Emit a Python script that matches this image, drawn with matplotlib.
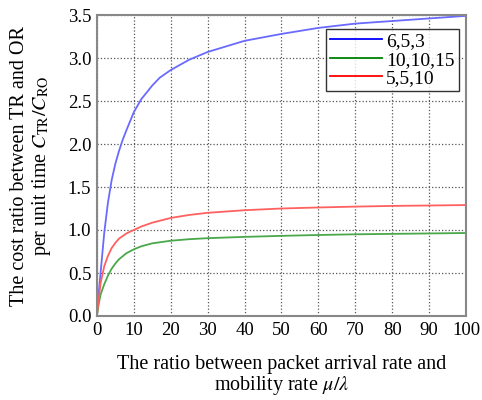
import matplotlib.pyplot as plt

plt.rcParams["font.family"] = "Liberation Serif"
plt.rcParams["mathtext.fontset"] = "stix"

# values
x_blue = [0, 0.5, 1, 2, 3, 4, 5, 6, 7, 8, 10, 12, 15, 17, 20, 25, 30, 40, 50, 60, 70, 80, 90, 100]
y_blue = [0, 0.27, 0.5, 0.97, 1.32, 1.58, 1.77, 1.92, 2.05, 2.16, 2.37, 2.52, 2.68, 2.77, 2.86, 2.98, 3.07,
          3.2, 3.28, 3.35, 3.4, 3.43, 3.46, 3.49]

x_green = [0, 0.5, 1, 2, 3, 4, 5, 6, 8, 10, 12, 15, 20, 25, 30, 40, 50, 60, 70, 80, 90, 100]
y_green = [0, 0.14, 0.25, 0.37, 0.47, 0.55, 0.61, 0.66, 0.73, 0.775, 0.81, 0.845, 0.875, 0.893, 0.905, 0.92,
           0.932, 0.942, 0.95, 0.955, 0.96, 0.965]

x_red = [0, 0.5, 1, 2, 3, 4, 5, 6, 8, 10, 12, 15, 20, 25, 30, 40, 50, 60, 70, 80, 90, 100]
y_red = [0, 0.2, 0.38, 0.58, 0.7, 0.79, 0.85, 0.9, 0.96, 1.0, 1.04, 1.085, 1.14, 1.175, 1.2, 1.23, 1.25,
         1.262, 1.272, 1.28, 1.285, 1.29]

labels = ["6,5,3", "10,10,15", "5,5,10"]

fig = plt.figure(figsize=(4.82, 4.0), dpi=100)
ax = fig.add_axes([0.201, 0.21, 0.766, 0.7525])

ax.plot(x_blue, y_blue, color="#6a6aff", lw=1.3, label=labels[0])
ax.plot(x_green, y_green, color="#4aa84a", lw=1.3, label=labels[1])
ax.plot(x_red, y_red, color="#ff6060", lw=1.3, label=labels[2])

ax.set_xlim(0, 100)
ax.set_ylim(0, 3.5)
ax.set_xticks(range(0, 101, 10))
ax.set_yticks([0, 0.5, 1.0, 1.5, 2.0, 2.5, 3.0, 3.5])
ax.set_yticklabels(["0.0", "0.5", "1.0", "1.5", "2.0", "2.5", "3.0", "3.5"])
ax.tick_params(labelsize=13.5, length=0, pad=4)
ax.grid(True, color="#555555", linestyle=":", lw=0.9)
for s in ax.spines.values():
    s.set_color("#888888")
    s.set_linewidth(1.5)

ax.set_xlabel("The ratio between packet arrival rate and\nmobility rate $\\mu/\\lambda$", fontsize=14.5, labelpad=12,
              linespacing=1.0)
ax.set_ylabel("The cost ratio between TR and OR\nper unit time $C_{\\rm TR}/C_{\\rm RO}$", fontsize=14.5, labelpad=11,
              linespacing=1.05)

leg = ax.legend(loc="upper right", bbox_to_anchor=(0.98, 0.955), fontsize=14, frameon=True, fancybox=False,
                handlelength=2.7, borderpad=0.2, labelspacing=0.05, handletextpad=0.2, borderaxespad=0)
leg.get_frame().set_edgecolor("black")
leg.get_frame().set_linewidth(1.0)
for line, c in zip(leg.get_lines(), ["blue", "green", "red"]):
    line.set_color(c)

fig.savefig("out.png", dpi=100)
